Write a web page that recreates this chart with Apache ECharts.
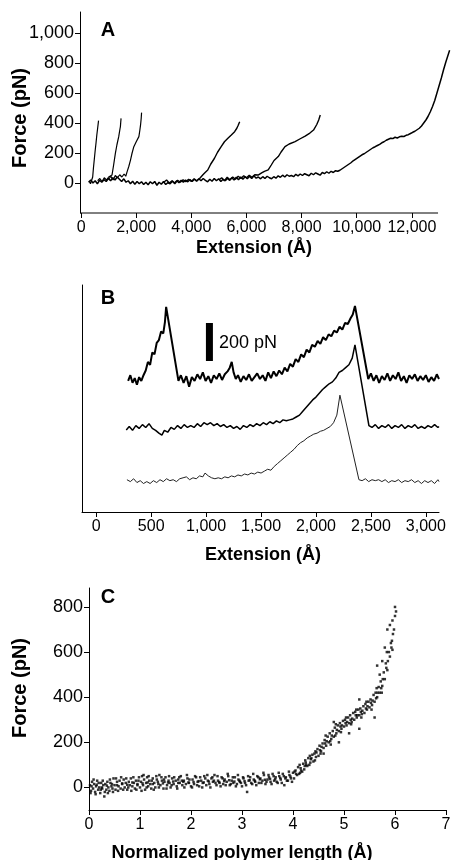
<!DOCTYPE html>
<html lang="en">

<head>
  <meta charset="UTF-8">
  <title>Force-extension curves</title>
  <script src="https://cdn.jsdelivr.net/npm/echarts@6/dist/echarts.min.js"></script>
  <style>
    body { margin: 0; background: #fff; }
  </style>
</head>

<body>
  <div id="main" style="width: 453px;height:860px;"></div>

  <script>
    // ---- panel A : force (pN) vs extension (Å) ----
    const aXTicks = [0, 2000, 4000, 6000, 8000, 10000, 12000];
    const aYTicks = [0, 200, 400, 600, 800, 1000];
    // the drawn x-axis line stops at ~12,950 Å while the last trace runs past it
    const aAxisLine = [[-40, -200], [12950, -200]];
    const aTrace1 = [[300,10],[340,-5],[390,8],[420,40],[450,105],[480,160],[510,215],[540,265],[570,320],[600,365],[633,416]];
    const aTrace2 = [[600,15],[680,30],[760,10],[840,35],[920,20],[1000,40],[1060,30],[1121,53],[1180,120],[1243,198],[1300,255],[1365,309],[1410,360],[1426,376],[1440,410],[1450,431]];
    const aTrace3 = [[1000,25],[1080,45],[1160,20],[1240,50],[1320,35],[1400,55],[1480,40],[1560,60],[1620,45],[1670,76],[1730,110],[1792,153],[1850,200],[1913,242],[2000,275],[2096,309],[2130,350],[2157,387],[2180,430],[2194,469]];
    const aTrace4 = [[3000,5],[3100,20],[3200,0],[3300,15],[3400,-5],[3500,18],[3600,5],[3700,22],[3800,8],[3900,25],[4000,10],[4100,28],[4200,15],[4300,30],[4351,31],[4420,55],[4500,70],[4595,87],[4700,125],[4839,165],[4950,205],[5082,242],[5200,275],[5326,298],[5450,320],[5570,342],[5650,365],[5700,385],[5753,409]];
    const aTrace5 = [[5000,20],[5100,35],[5200,15],[5300,38],[5400,22],[5500,40],[5600,25],[5700,45],[5800,30],[5900,48],[6000,35],[6100,52],[6200,38],[6300,55],[6422,53],[6550,68],[6650,78],[6788,87],[6900,120],[7000,150],[7153,176],[7250,205],[7397,242],[7550,260],[7763,276],[7950,295],[8128,313],[8300,333],[8433,353],[8550,390],[8620,420],[8677,453]];
    const aTrace6 = [[270,5],[350,20],[430,0],[510,15],[590,-5],[670,18],[750,5],[830,22],[910,10],[990,30],[1070,15],[1150,35],[1230,20],[1310,40],[1390,25],[1470,10],[1550,28],[1630,5],[1710,15],[1790,-5],[1870,12],[1950,-8],[2030,10],[2110,-5],[2190,8],[2270,-10],[2350,5],[2430,-12],[2510,8],[2590,-5],[2670,10],[2750,-15],[2830,5],[2910,-8],[2990,10],[3070,-10],[3150,2],[3230,-5],[3310,12],[3390,0],[3470,15],[3550,2],[3630,18],[3710,5],[3790,20],[3870,8],[3950,22],[4030,10],[4110,25],[4190,12],[4270,28],[4350,15],[4430,30],[4510,18],[4590,8],[4670,25],[4750,12],[4830,30],[4910,15],[4990,28],[5070,10],[5150,25],[5230,15],[5310,30],[5390,18],[5470,35],[5550,20],[5630,38],[5710,22],[5790,40],[5870,25],[5950,42],[6030,28],[6110,45],[6190,30],[6270,48],[6350,32],[6430,40],[6510,28],[6590,42],[6670,30],[6750,45],[6830,35],[6910,28],[6990,42],[7070,32],[7150,48],[7230,38],[7310,52],[7390,40],[7470,55],[7550,45],[7630,50],[7710,42],[7790,58],[7870,48],[7950,60],[8030,50],[8110,62],[8190,55],[8270,48],[8350,65],[8430,55],[8510,68],[8590,60],[8670,52],[8750,70],[8830,62],[8910,75],[8990,65],[9070,78],[9150,70],[9230,82],[9310,78],[9390,85],[9470,95],[9550,105],[9630,115],[9710,125],[9790,135],[9870,148],[9950,158],[10030,168],[10110,178],[10190,188],[10270,195],[10350,205],[10430,215],[10510,225],[10590,235],[10670,242],[10750,250],[10830,258],[10910,268],[10990,275],[11070,285],[11150,292],[11230,298],[11310,296],[11390,305],[11470,300],[11550,308],[11630,312],[11710,310],[11790,318],[11870,322],[11950,330],[12030,338],[12110,345],[12190,355],[12270,365],[12350,380],[12430,400],[12510,420],[12590,445],[12670,475],[12750,510],[12830,550],[12910,600],[12990,650],[13070,700],[13150,755],[13230,805],[13300,845],[13370,885]];

    // ---- panel B : three offset traces (pN, arbitrary offsets) ----
    const bXTicks = [0, 500, 1000, 1500, 2000, 2500, 3000];
    const bTop = [[290,690],[310,720],[330,680],[350,705],[370,670],[390,710],[410,690],[430,720],[450,745],[470,790],[490,775],[510,840],[530,830],[550,890],[570,905],[590,950],[610,940],[625,1000],[636,1080],[748,690],[770,720],[795,680],[820,715],[845,660],[870,710],[895,690],[920,725],[945,700],[970,735],[995,690],[1020,715],[1045,680],[1070,720],[1095,700],[1120,730],[1145,695],[1170,725],[1195,740],[1215,760],[1233,790],[1250,735],[1270,700],[1290,720],[1315,685],[1340,715],[1365,695],[1390,725],[1415,690],[1440,710],[1465,730],[1490,700],[1515,720],[1540,690],[1565,735],[1590,705],[1615,740],[1640,715],[1665,745],[1690,725],[1715,760],[1740,740],[1765,780],[1790,765],[1815,805],[1840,790],[1865,830],[1890,815],[1915,855],[1940,840],[1965,880],[1990,870],[2015,900],[2040,885],[2065,920],[2090,905],[2115,935],[2140,925],[2165,955],[2190,945],[2215,975],[2240,960],[2265,995],[2290,990],[2315,1020],[2335,1040],[2355,1085],[2476,700],[2500,730],[2525,690],[2550,720],[2575,680],[2600,715],[2625,695],[2650,730],[2675,690],[2700,720],[2725,700],[2750,735],[2775,690],[2800,715],[2825,680],[2850,720],[2875,700],[2900,725],[2925,690],[2950,715],[2975,695],[3000,720],[3025,685],[3050,710],[3075,690],[3100,725],[3120,700]];
    const bMid = [[273,432],[300,450],[330,430],[360,455],[390,440],[420,460],[450,445],[480,465],[510,440],[540,430],[570,415],[597,405],[620,430],[650,420],[680,445],[710,435],[740,455],[770,440],[800,460],[830,445],[860,455],[890,445],[920,465],[950,450],[980,470],[1010,460],[1040,470],[1070,455],[1100,465],[1130,450],[1160,460],[1190,445],[1220,455],[1250,440],[1280,450],[1310,435],[1340,455],[1370,445],[1400,460],[1430,450],[1460,465],[1490,455],[1520,470],[1550,460],[1580,475],[1610,465],[1640,480],[1670,470],[1700,485],[1730,480],[1760,485],[1790,490],[1820,500],[1850,510],[1880,530],[1910,550],[1940,570],[1970,590],[2000,605],[2030,625],[2060,645],[2090,660],[2120,675],[2150,685],[2180,705],[2210,735],[2240,745],[2270,760],[2300,775],[2330,810],[2355,880],[2482,455],[2510,445],[2540,460],[2570,440],[2600,455],[2630,445],[2660,460],[2690,440],[2720,455],[2750,445],[2780,460],[2810,440],[2840,455],[2870,445],[2900,460],[2930,440],[2960,450],[2990,440],[3020,455],[3050,445],[3080,460],[3110,445],[3120,450]];
    const bLow = [[279,170],[310,160],[340,175],[370,155],[400,165],[430,150],[460,160],[490,150],[520,165],[550,155],[580,170],[610,160],[640,175],[670,165],[700,170],[730,160],[760,175],[790,180],[820,185],[850,170],[880,180],[910,175],[940,190],[970,185],[990,205],[1005,215],[1020,190],[1050,180],[1080,175],[1110,180],[1140,175],[1170,185],[1200,180],[1230,190],[1260,185],[1290,195],[1320,190],[1350,200],[1380,195],[1410,205],[1440,200],[1470,210],[1500,205],[1530,215],[1560,225],[1590,220],[1620,240],[1650,255],[1680,270],[1710,285],[1740,300],[1770,315],[1800,330],[1830,350],[1860,365],[1890,375],[1920,390],[1950,400],[1980,410],[2010,415],[2040,425],[2070,430],[2100,440],[2130,450],[2160,470],[2190,510],[2218,615],[2391,170],[2420,165],[2450,175],[2480,160],[2510,170],[2540,165],[2570,170],[2600,160],[2630,170],[2660,155],[2690,165],[2720,160],[2750,170],[2780,155],[2810,165],[2840,160],[2870,170],[2900,155],[2930,165],[2960,150],[2990,165],[3020,155],[3050,165],[3080,150],[3110,170],[3120,160]];
    const bScaleBar = [[1030,795],[1030,995]];

    // ---- panel C : force vs normalized polymer length ----
    const cXTicks = [0, 1, 2, 3, 4, 5, 6, 7];
    const cYTicks = [0, 200, 400, 600, 800];
    const cFlat = [[0.02,10],[0.04,-15],[0.06,25],[0.08,-5],[0.1,15],[0.12,-20],[0.14,5],[0.16,30],[0.18,-10],[0.2,0],[0.22,-25],[0.24,20],[0.26,-5],[0.28,10],[0.3,-40],[0.32,15],[0.34,-10],[0.36,25],[0.38,0],[0.4,-15],[0.42,20],[0.44,5],[0.46,-5],[0.48,40],[0.5,10],
      [0.52,-10],[0.55,25],[0.58,5],[0.6,30],[0.62,-5],[0.65,15],[0.68,35],[0.7,0],[0.72,20],[0.75,-10],[0.78,25],[0.8,10],[0.82,40],[0.85,5],[0.88,20],[0.9,-5],[0.92,30],[0.95,10],[0.98,45],[1.0,0],
      [1.02,25],[1.04,50],[1.06,10],[1.08,35],[1.1,-10],[1.12,20],[1.14,45],[1.16,5],[1.18,30],[1.2,15],[1.22,-5],[1.25,40],[1.28,20],[1.3,0],[1.33,35],[1.36,15],[1.38,55],[1.4,10],[1.43,30],[1.46,-5],[1.48,25],[1.5,45],[1.53,10],[1.56,30],[1.58,20],[1.6,0],[1.63,40],[1.66,15],[1.7,30],[1.72,5],[1.75,35],[1.78,20],[1.8,50],[1.83,10],[1.86,30],[1.9,15],[1.93,40],[1.96,20],[2.0,5],
      [2.03,35],[2.06,15],[2.1,45],[2.13,25],[2.16,5],[2.2,30],[2.23,20],[2.26,50],[2.3,10],[2.33,30],[2.36,15],[2.4,40],[2.43,25],[2.46,55],[2.5,10],[2.53,30],[2.56,20],[2.6,45],[2.63,15],[2.66,35],[2.7,25],[2.73,50],[2.76,10],[2.8,30],[2.83,20],[2.86,45],[2.9,15],[2.93,35],[2.96,25],[3.0,5],
      [3.03,40],[3.06,20],[3.1,-20],[3.13,30],[3.16,45],[3.2,15],[3.23,35],[3.26,25],[3.3,50],[3.33,20],[3.36,40],[3.4,30],[3.43,55],[3.46,15],[3.5,35],[3.53,45],[3.56,25],[3.6,60],[3.63,30],[3.66,45],[3.7,20],[3.73,50],[3.76,35],[3.8,60],[3.83,10],[3.86,45],[3.9,30],[3.93,55],[3.96,40],[4.0,65],
      [0.05,5],[0.15,12],[0.25,0],[0.35,8],[0.45,15],[0.55,10],[0.65,18],[0.75,12],[0.85,22],[0.95,15],[1.05,18],[1.15,22],[1.25,15],[1.35,25],[1.45,18],[1.55,22],[1.65,26],[1.75,20],[1.85,25],[1.95,22],[2.05,24],[2.15,28],[2.25,22],[2.35,26],[2.45,30],[2.55,24],[2.65,28],[2.75,32],[2.85,26],[2.95,30],[3.05,28],[3.15,32],[3.25,30],[3.35,36],[3.45,34],[3.55,38],[3.65,36],[3.75,42],[3.85,40],[3.95,48],
      [0.03,-25],[0.09,35],[0.13,-30],[0.19,20],[0.23,-10],[0.27,30],[0.31,-20],[0.37,-25],[0.41,35],[0.47,-20],[0.53,40],[0.57,-15],[0.63,45],[0.67,-10],[0.73,40],[0.77,0],[0.83,-15],[0.87,45],[0.93,-10],[0.97,30],[1.03,-15],[1.07,55],[1.13,0],[1.17,50],[1.23,30],[1.27,-10],[1.32,50],[1.37,0],[1.42,45],[1.47,35],[1.52,-5],[1.57,50],[1.62,10],[1.67,45],[1.73,-5],[1.77,45],[1.82,30],[1.87,0],[1.92,55],[1.97,35],[2.02,0],[2.08,50],[2.12,10],[2.18,45],[2.22,0],[2.28,40],[2.32,55],[2.38,0],[2.42,45],[2.48,20],[2.52,50],[2.58,5],[2.62,40],[2.68,10],[2.72,60],[2.78,15],[2.82,45],[2.88,5],[2.92,55],[2.98,20],[3.02,45],[3.08,10],[3.12,50],[3.18,20],[3.22,60],[3.28,10],[3.32,45],[3.38,20],[3.42,65],[3.48,25],[3.52,55],[3.58,15],[3.62,50],[3.68,25],[3.72,65],[3.78,20],[3.82,50],[3.88,30],[3.92,70],[3.98,25]];
    const cRise = [[4.02,40],[4.05,75],[4.08,55],[4.1,90],[4.12,60],[4.15,85],[4.18,70],[4.2,105],[4.22,80],[4.25,110],[4.28,95],[4.3,130],[4.32,100],[4.35,125],[4.38,145],[4.4,115],[4.42,150],[4.45,135],[4.48,170],[4.5,140],[4.52,185],[4.55,160],[4.58,195],[4.6,175],[4.62,210],[4.65,185],[4.68,225],[4.7,200],[4.72,240],[4.75,215],[4.78,250],[4.8,225],[4.82,265],[4.85,240],[4.88,275],[4.9,250],[4.92,285],[4.95,260],[4.98,295],[5.0,270],[5.02,300],[5.05,275],[5.08,310],[5.1,285],[5.12,320],[5.15,290],[5.18,330],[5.2,300],[5.22,335],[5.25,310],[5.28,345],[5.3,320],[5.32,350],[5.35,325],[5.38,360],[5.4,330],[5.42,370],[5.45,345],[5.48,380],[5.5,355],[5.52,390],[5.55,365],[5.58,410],[5.6,380],[5.62,420],[5.65,400],[5.68,445],[5.7,420],[5.72,470],[5.75,450],[5.78,510],[5.8,480],[5.82,550],[5.85,520],[5.88,600],[5.9,580],[5.92,640],[5.95,610],[5.98,700],[6.0,760],[6.0,800],[6.02,780],
      [4.9,200],[5.3,260],[5.6,310],[5.1,240],[4.6,150],[4.8,290],[5.3,390],[5.75,560],[5.8,620],[5.85,700],[5.7,500],[5.65,540],[5.9,720],[5.95,740],
      [4.06,60],[4.16,75],[4.26,100],[4.36,130],[4.46,155],[4.56,180],[4.66,205],[4.76,230],[4.86,255],[4.96,275],[5.06,290],[5.16,305],[5.26,320],[5.36,340],[5.46,360],[5.56,385],[5.66,420],[5.76,480],[5.86,560],[5.96,680],
      [4.03,70],[4.13,100],[4.23,95],[4.33,140],[4.43,120],[4.53,165],[4.63,195],[4.73,205],[4.83,230],[4.93,270],[5.03,285],[5.13,300],[5.23,320],[5.33,335],[5.43,350],[5.53,375],[5.63,395],[5.73,440],[5.83,530],[5.93,620],
      [4.14,65],[4.24,120],[4.34,110],[4.44,160],[4.54,150],[4.64,230],[4.74,190],[4.84,280],[4.94,245],[5.04,310],[5.14,280],[5.24,345],[5.34,310],[5.44,380],[5.54,345],[5.64,440],[5.74,420],[5.84,600],[5.94,650]];

    const font = 'Liberation Sans, Arial, sans-serif';
    const black = '#000';

    function numFmt(v) {
      return v.toLocaleString('en-US');
    }

    function xAxisCfg(gridIndex, min, max, ticks, showLine) {
      return {
        type: 'value', gridIndex: gridIndex, min: min, max: max,
        axisLine: { show: showLine !== false, onZero: false, lineStyle: { color: black, width: 1 } },
        axisTick: { show: true, length: 5, lineStyle: { color: black }, customValues: ticks },
        axisLabel: { color: black, fontFamily: font, fontSize: 16, margin: 7, customValues: ticks, formatter: numFmt },
        splitLine: { show: false }
      };
    }

    function yAxisCfg(gridIndex, min, max, ticks) {
      return {
        type: 'value', gridIndex: gridIndex, min: min, max: max,
        axisLine: { show: true, onZero: false, lineStyle: { color: black, width: 1 } },
        axisTick: { show: !!ticks, length: 5, lineStyle: { color: black }, customValues: ticks || [] },
        axisLabel: { show: !!ticks, color: black, fontFamily: font, fontSize: 18, margin: 6, customValues: ticks || [], formatter: numFmt },
        splitLine: { show: false }
      };
    }

    function trace(data, xi, width, color) {
      return {
        type: 'line', xAxisIndex: xi, yAxisIndex: xi, data: data,
        showSymbol: false, clip: false, silent: true,
        lineStyle: { color: color || black, width: width }
      };
    }

    function txt(x, y, text, size, bold, rot) {
      return {
        type: 'text', x: x, y: y, rotation: rot || 0,
        style: {
          text: text, fill: black, font: (bold ? 'bold ' : '') + size + 'px ' + font,
          textAlign: 'center', textVerticalAlign: 'middle'
        }
      };
    }

    var myChart = echarts.init(document.getElementById('main'));

    var option = {
      animation: false,
      backgroundColor: '#fff',
      grid: [
        // A: same scale as an axis running to 12,950 Å over 358 px, extended to 13,420 Å
        { left: 80, top: 12, width: 371, height: 201, outerBoundsMode: 'none' },
        { left: 82, top: 285, width: 357, height: 227, outerBoundsMode: 'none' },
        { left: 89, top: 588, width: 357, height: 222, outerBoundsMode: 'none' }
      ],
      xAxis: [
        xAxisCfg(0, -40, 13420, aXTicks, false),
        xAxisCfg(1, -130, 3120, bXTicks),
        xAxisCfg(2, 0, 7, cXTicks)
      ],
      yAxis: [
        yAxisCfg(0, -200, 1140, aYTicks),
        yAxisCfg(1, 0, 1195, null),
        yAxisCfg(2, -100, 884, cYTicks)
      ],
      graphic: [
        txt(108, 30, 'A', 20, true),
        txt(108, 298, 'B', 20, true),
        txt(108, 597, 'C', 20, true),
        txt(254, 248, 'Extension (Å)', 18, true),
        txt(263, 555, 'Extension (Å)', 18, true),
        txt(242, 853, 'Normalized polymer length (Å)', 18, true),
        txt(20, 118, 'Force (pN)', 20, true, Math.PI / 2),
        txt(20, 688, 'Force (pN)', 20, true, Math.PI / 2),
        {
          type: 'text', x: 219, y: 343,
          style: { text: '200 pN', fill: black, font: '18px ' + font, textAlign: 'left', textVerticalAlign: 'middle' }
        }
      ],
      series: [
        trace(aAxisLine, 0, 1),
        trace(aTrace6, 0, 1.5),
        trace(aTrace1, 0, 1.2),
        trace(aTrace2, 0, 1.2),
        trace(aTrace3, 0, 1.2),
        trace(aTrace4, 0, 1.4),
        trace(aTrace5, 0, 1.4),
        trace(bTop, 1, 2),
        trace(bMid, 1, 1.5),
        trace(bLow, 1, 1, '#222'),
        trace(bScaleBar, 1, 7),
        {
          type: 'scatter', xAxisIndex: 2, yAxisIndex: 2, data: cFlat.concat(cRise),
          symbol: 'rect', symbolSize: 2.5, silent: true,
          itemStyle: { color: black }
        }
      ]
    };

    myChart.setOption(option);
  </script>
</body>

</html>
